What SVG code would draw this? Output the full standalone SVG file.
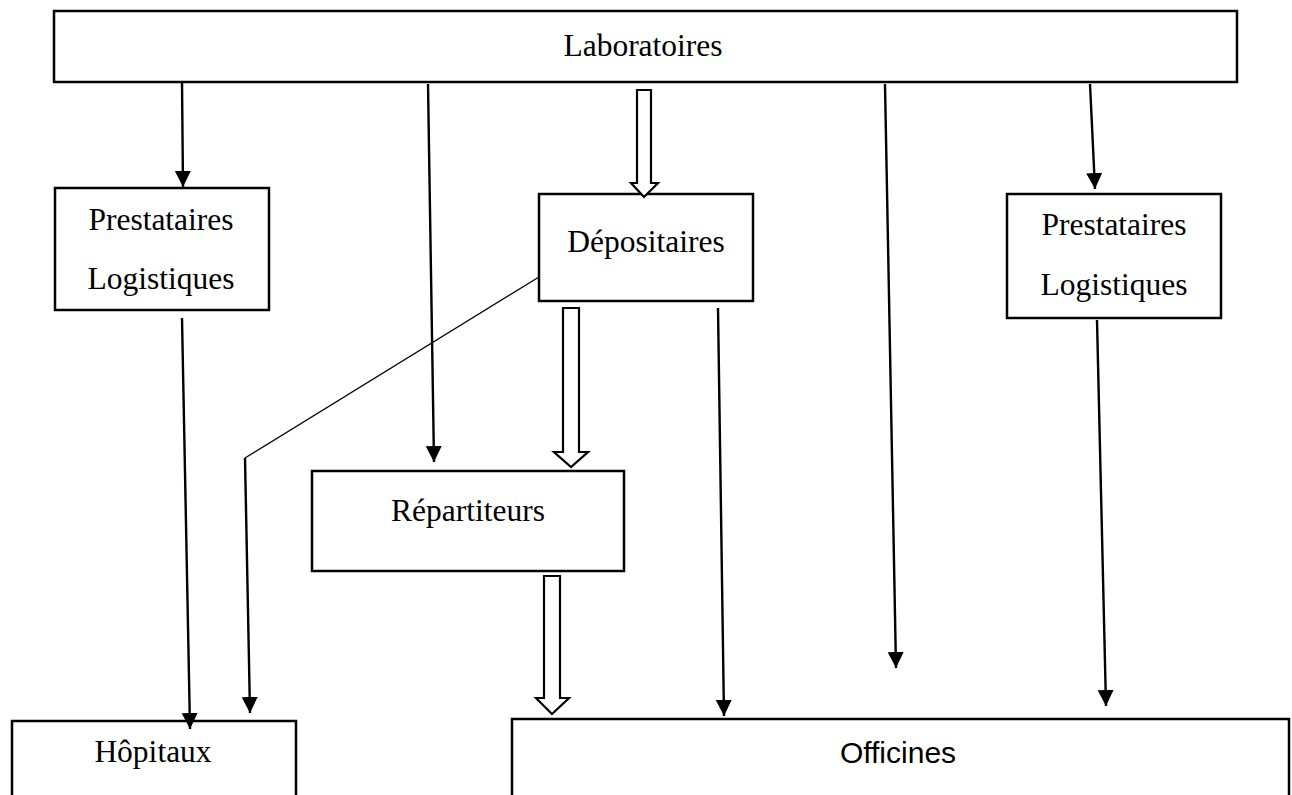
<svg xmlns="http://www.w3.org/2000/svg" width="1292" height="795" viewBox="0 0 1292 795">
<style>
.box{fill:#fff;stroke:#000;stroke-width:2.5}
.t{font-family:"Liberation Serif","Times New Roman",serif;font-size:31.5px;fill:#000;text-anchor:middle}
.s{font-family:"Liberation Sans",Arial,sans-serif;font-size:30px;fill:#000;text-anchor:middle}
.ln{stroke:#000;stroke-width:2.4;fill:none}
.thin{stroke:#000;stroke-width:1.3;fill:none}
.hollow{fill:#fff;stroke:#000;stroke-width:2.2;stroke-linejoin:miter}
</style>
<defs>
<marker id="ah" markerUnits="userSpaceOnUse" markerWidth="18" markerHeight="18" refX="16" refY="8" orient="auto">
<path d="M0,0 L16,8 L0,16 Z" fill="#000"/>
</marker>
</defs>
<rect width="1292" height="795" fill="#fff"/>
<g id="laboratoires">
<rect class="box" x="54" y="11" width="1183" height="71"/>
<text class="t" x="643" y="56">Laboratoires</text>
</g>
<g id="prestataires-left">
<rect class="box" x="55" y="188" width="214" height="122"/>
<text class="t" x="161" y="230">Prestataires</text>
<text class="t" x="161" y="289">Logistiques</text>
</g>
<g id="depositaires">
<rect class="box" x="539" y="194" width="214" height="107"/>
<text class="t" x="646" y="252">Dépositaires</text>
</g>
<g id="prestataires-right">
<rect class="box" x="1007" y="194" width="214" height="124"/>
<text class="t" x="1114" y="235">Prestataires</text>
<text class="t" x="1114" y="295">Logistiques</text>
</g>
<g id="repartiteurs">
<rect class="box" x="312" y="471" width="312" height="100"/>
<text class="t" x="468" y="521">Répartiteurs</text>
</g>
<g id="hopitaux">
<rect class="box" x="12" y="721" width="284" height="90"/>
<text class="t" x="153" y="762">Hôpitaux</text>
</g>
<g id="officines">
<rect class="box" x="512" y="719" width="777" height="90"/>
<text class="s" x="898" y="763">Officines</text>
</g>
<g id="connectors">
<line class="ln" x1="182" y1="82" x2="183" y2="187" marker-end="url(#ah)"/>
<line class="ln" x1="428" y1="84" x2="434" y2="462" marker-end="url(#ah)"/>
<line class="ln" x1="885" y1="84" x2="896" y2="668" marker-end="url(#ah)"/>
<line class="ln" x1="1090" y1="84" x2="1095" y2="189" marker-end="url(#ah)"/>
<line class="ln" x1="182" y1="318" x2="190" y2="729" marker-end="url(#ah)"/>
<line class="ln" x1="718" y1="308" x2="724" y2="716" marker-end="url(#ah)"/>
<line class="ln" x1="1097" y1="320" x2="1106" y2="706" marker-end="url(#ah)"/>
<line class="thin" x1="539" y1="277" x2="245" y2="458"/>
<line class="ln" x1="245" y1="458" x2="250" y2="713" marker-end="url(#ah)"/>
<polygon class="hollow" points="637,90 651,90 651,183 658,183 644,197 631,183 637,183"/>
<polygon class="hollow" points="563,308 579,308 579,452 588,452 571,467 554,452 563,452"/>
<polygon class="hollow" points="544,576 560,576 560,698 569,698 552,714 536,698 544,698"/>
</g>
</svg>
